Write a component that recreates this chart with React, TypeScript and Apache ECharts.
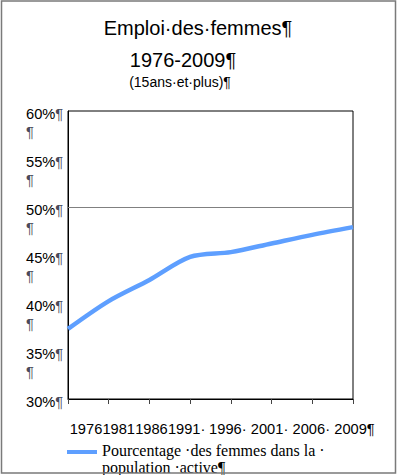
import React, { useEffect, useRef } from "react";
import * as echarts from "echarts";

const years = ["1976", "1981", "1986", "1991·", "1996·", "2001·", "2006·", "2009¶"];
const womenShare = [37.3, 40.2, 42.4, 44.8, 45.3, 46.2, 47.1, 47.9];
const seriesName = "Pourcentage ·des femmes dans la ·\npopulation ·active¶";
const titleLines = ["Emploi·des·femmes¶", "1976-2009¶", "(15ans·et·plus)¶"];
const yMin = 30;
const yMax = 60;
const yStep = 2.5;
const referenceLine = 50;

// horizontal nudges (px) of the x labels, to mimic the packed text of the original
const xLabelShift = [18, 10, 2, -3.5, -3, -2, -1, 1.5];

const SANS = 'Arial, "Liberation Sans", sans-serif';
const SERIF = '"Book Antiqua", "Liberation Serif", serif';
const LINE_COLOR = "#5E9FFF";

export default function App() {
  const ref = useRef<HTMLDivElement>(null);
  useEffect(() => {
    document.body.style.margin = "0";
    if (!ref.current) return;
    const chart = echarts.init(ref.current, null, { renderer: "svg" });
    const rich: Record<string, any> = {};
    xLabelShift.forEach((s, i) => {
      rich["x" + i] = {
        fontFamily: SANS,
        fontSize: 14.67,
        color: "#000",
        padding: s >= 0 ? [0, 0, 0, 2 * s] : [0, -2 * s, 0, 0],
      };
    });
    chart.setOption({
      animation: false,
      backgroundColor: "#fff",
      grid: {
        left: 68,
        right: 44,
        top: 111,
        bottom: 76,
        show: true,
        borderColor: "#000",
        borderWidth: 1,
      },
      xAxis: {
        type: "category",
        data: years,
        boundaryGap: false,
        axisLine: { lineStyle: { color: "#000", width: 1 } },
        axisTick: { show: true, length: 5, inside: false, lineStyle: { color: "#444" } },
        axisLabel: {
          interval: 0,
          hideOverlap: false,
          margin: 22,
          fontFamily: SANS,
          fontSize: 14.67,
          color: "#000",
          formatter: (v: string, i: number) => `{x${i}|${v}}`,
          rich,
        },
        splitLine: { show: false },
      },
      yAxis: {
        type: "value",
        min: yMin,
        max: yMax,
        interval: yStep,
        axisLine: { show: true, lineStyle: { color: "#000", width: 1 } },
        axisTick: { show: false },
        splitLine: { show: false },
        axisLabel: {
          align: "left",
          margin: 42,
          fontFamily: SANS,
          fontSize: 14.67,
          color: "#000",
          formatter: (v: number) => (v % 5 === 0 ? `{n|${v}%}{p|¶}` : "{q|¶}"),
          rich: {
            n: { fontFamily: SANS, fontSize: 14.67, color: "#000", padding: [6, 0, 0, 0] },
            p: { fontFamily: SANS, fontSize: 14.67, color: "#4a4a5a", padding: [6, 0, 0, 0] },
            q: { fontFamily: SANS, fontSize: 14.67, color: "#4a4a5a", padding: [0, 0, 6, 0] },
          },
        },
      },
      series: [
        {
          name: seriesName,
          type: "line",
          data: womenShare,
          smooth: 0.3,
          showSymbol: false,
          symbol: "none",
          lineStyle: { color: LINE_COLOR, width: 4.5 },
          itemStyle: { color: LINE_COLOR },
          markLine: {
            silent: true,
            symbol: "none",
            label: { show: false },
            lineStyle: { color: "#808080", type: "solid", width: 1 },
            data: [{ yAxis: referenceLine }],
          },
        },
      ],
      graphic: [
        {
          type: "text",
          x: 198,
          y: 28,
          style: {
            text: titleLines[0],
            font: `20px ${SANS}`,
            fill: "#000",
            textAlign: "center",
            textVerticalAlign: "middle",
          },
        },
        {
          type: "text",
          x: 183,
          y: 60,
          style: {
            text: titleLines[1],
            font: `20px ${SANS}`,
            fill: "#000",
            textAlign: "center",
            textVerticalAlign: "middle",
          },
        },
        {
          type: "text",
          x: 180,
          y: 82,
          style: {
            text: titleLines[2],
            font: `14px ${SANS}`,
            fill: "#000",
            textAlign: "center",
            textVerticalAlign: "middle",
          },
        },
        {
          type: "rect",
          shape: { x: 67, y: 450, width: 30, height: 4 },
          style: { fill: LINE_COLOR },
        },
        {
          type: "text",
          x: 102,
          y: 441.5,
          style: {
            text: seriesName,
            font: `16px ${SERIF}`,
            lineHeight: 17,
            fill: "#000",
            textAlign: "left",
            textVerticalAlign: "top",
          },
        },
        {
          type: "rect",
          z: 100,
          silent: true,
          shape: { x: 1.5, y: 1, width: 394, height: 472 },
          style: { fill: "none", stroke: "#7a7a7a", lineWidth: 1.5 },
        },
      ],
    });
    return () => chart.dispose();
  }, []);
  return <div ref={ref} style={{ width: 397, height: 475 }} />;
}
